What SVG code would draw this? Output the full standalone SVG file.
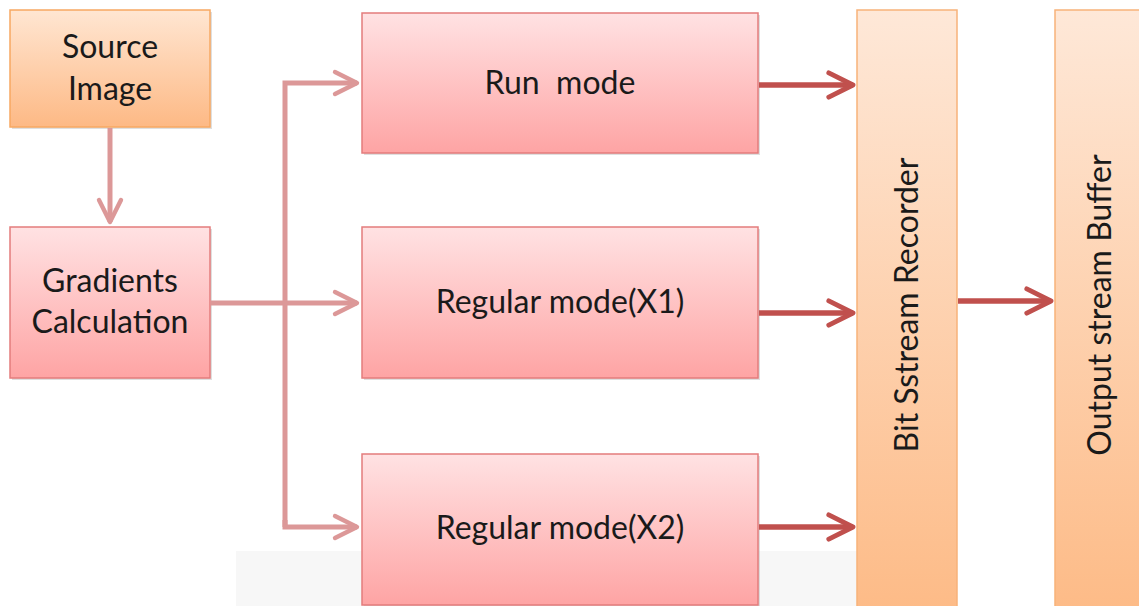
<svg xmlns="http://www.w3.org/2000/svg" width="1139" height="606" viewBox="0 0 1139 606">
  <defs>
    <linearGradient id="pink" x1="0" y1="0" x2="0" y2="1">
      <stop offset="0" stop-color="#ffe2e3"/>
      <stop offset="1" stop-color="#fea4a4"/>
    </linearGradient>
    <linearGradient id="orange" x1="0" y1="0" x2="0" y2="1">
      <stop offset="0" stop-color="#ffe6d2"/>
      <stop offset="1" stop-color="#fdb985"/>
    </linearGradient>
    <linearGradient id="orangeTall" x1="0" y1="0" x2="0" y2="1">
      <stop offset="0" stop-color="#fee8d8"/>
      <stop offset="1" stop-color="#fdbb87"/>
    </linearGradient>
    <marker id="headLight" viewBox="0 0 10 10" refX="9" refY="5" markerWidth="5.5" markerHeight="5.5" markerUnits="strokeWidth" orient="auto">
      <path d="M1,1 L9,5 L1,9" fill="none" stroke="#dc9898" stroke-width="1.6" stroke-linecap="round" stroke-linejoin="round"/>
    </marker>
    <marker id="headDark" viewBox="0 0 10 10" refX="9" refY="5" markerWidth="5.5" markerHeight="5.5" markerUnits="strokeWidth" orient="auto">
      <path d="M1,1 L9,5 L1,9" fill="none" stroke="#c0504d" stroke-width="1.6" stroke-linecap="round" stroke-linejoin="round"/>
    </marker>
  </defs>
  <style>
    .pink { fill: url(#pink); stroke: #e47c7c; stroke-width: 1.5; }
    .orange { fill: url(#orange); stroke: #f7a862; stroke-width: 1.5; }
    .tall { fill: url(#orangeTall); stroke: #f7b27a; stroke-width: 1.5; }
    .shadow { fill: #b8b8b8; opacity: 0.45; }
    .label { font-family: Lato, "Open Sans", "Liberation Sans", sans-serif; font-size: 32px; fill: #1a1a1a; text-anchor: middle; }
    .light { fill: none; stroke: #dc9898; stroke-width: 5; }
    .dark { fill: none; stroke: #c0504d; stroke-width: 5.5; }
  </style>

  <rect width="1139" height="606" fill="#ffffff"/>
  <!-- faint band behind the lower mode box -->
  <rect x="236" y="551" width="621" height="55" fill="#f7f7f7"/>

  <g id="source-image">
    <rect class="shadow" x="12" y="12" width="200" height="117"/>
    <rect class="orange" x="10" y="10" width="200" height="117"/>
    <text class="label" x="110" y="58">Source</text>
    <text class="label" x="110" y="100">Image</text>
  </g>

  <g id="gradients-calculation">
    <rect class="shadow" x="12" y="229" width="200" height="151"/>
    <rect class="pink" x="10" y="227" width="200" height="151"/>
    <text class="label" x="110" y="292">Gradients</text>
    <text class="label" x="110" y="333">Calculation</text>
  </g>

  <g id="run-mode">
    <rect class="shadow" x="364" y="15" width="396" height="140"/>
    <rect class="pink" x="362" y="13" width="396" height="140"/>
    <text class="label" x="560" y="94" xml:space="preserve">Run  mode</text>
  </g>

  <g id="regular-mode-x1">
    <rect class="shadow" x="364" y="229" width="396" height="151"/>
    <rect class="pink" x="362" y="227" width="396" height="151"/>
    <text class="label" x="560" y="313">Regular mode(X1)</text>
  </g>

  <g id="regular-mode-x2">
    <rect class="shadow" x="364" y="456" width="396" height="151"/>
    <rect class="pink" x="362" y="454" width="396" height="151"/>
    <text class="label" x="560" y="539">Regular mode(X2)</text>
  </g>

  <g id="bit-stream-recorder">
    <rect class="tall" x="857" y="10" width="100" height="600"/>
    <text class="label" transform="translate(918,305) rotate(-90)">Bit Sstream Recorder</text>
  </g>

  <g id="output-stream-buffer">
    <rect class="tall" x="1055" y="10" width="100" height="600"/>
    <text class="label" transform="translate(1111,305) rotate(-90)">Output stream Buffer</text>
  </g>

  <g id="connectors">
    <path class="light" d="M110,128 V222" marker-end="url(#headLight)"/>
    <path class="light" d="M211,303 H357" marker-end="url(#headLight)"/>
    <path class="light" d="M285,527 V83 H357" marker-end="url(#headLight)"/>
    <path class="light" d="M285,520 V527 H357" marker-end="url(#headLight)"/>
    <path class="dark" d="M759,85 H853" marker-end="url(#headDark)"/>
    <path class="dark" d="M759,313 H853" marker-end="url(#headDark)"/>
    <path class="dark" d="M759,527 H853" marker-end="url(#headDark)"/>
    <path class="dark" d="M958,301 H1051" marker-end="url(#headDark)"/>
  </g>
</svg>
